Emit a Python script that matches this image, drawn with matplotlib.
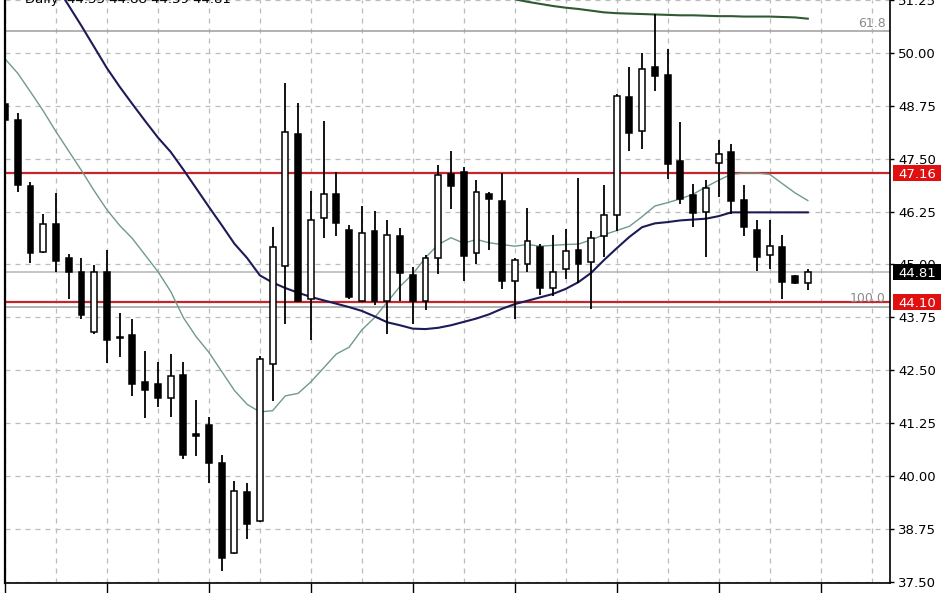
import matplotlib
matplotlib.use("Agg")
import matplotlib.pyplot as plt
import matplotlib.transforms as mtrans
from matplotlib.patches import Rectangle
import numpy as np

# ---------------- data (daily candles) ----------------
opens = [48.79, 48.42, 46.86, 45.30, 45.96, 45.14, 44.81, 43.39, 44.83, 43.29,
         43.33, 42.21, 42.16, 41.85, 42.39, 40.99, 41.20, 40.31, 38.17, 39.62,
         38.92, 42.65, 44.97, 48.09, 44.19, 46.10, 46.67, 45.81, 44.14, 45.78,
         44.14, 45.66, 44.75, 44.14, 45.14, 47.13, 47.19, 45.28, 46.67, 46.49,
         44.60, 45.01, 45.41, 44.44, 44.89, 45.34, 45.06, 45.67, 46.16, 48.95,
         48.16, 49.66, 49.47, 47.44, 46.63, 46.24, 47.40, 47.66, 46.53, 45.82,
         45.21, 45.41, 44.73, 44.55]
highs = [49.33, 48.59, 46.94, 46.19, 46.68, 45.24, 45.14, 44.99, 45.34, 43.86,
         43.70, 42.96, 42.69, 42.88, 42.69, 41.79, 41.38, 40.50, 39.88, 39.84,
         42.84, 45.88, 49.29, 48.81, 46.74, 48.38, 47.19, 45.92, 46.37, 46.26,
         46.04, 45.85, 44.93, 45.22, 47.34, 47.68, 47.31, 47.00, 46.71, 47.15,
         45.15, 46.33, 45.47, 45.70, 45.84, 47.04, 45.78, 46.88, 49.04, 49.67,
         50.00, 50.93, 50.10, 48.36, 46.91, 46.99, 47.93, 47.85, 46.87, 46.04,
         46.04, 45.70, 44.75, 44.88]
lows = [48.30, 46.72, 45.04, 45.28, 44.83, 44.19, 43.70, 43.36, 42.67, 42.80,
        41.89, 41.36, 41.62, 41.40, 40.39, 40.46, 39.82, 37.75, 38.14, 38.50,
        38.90, 41.77, 43.58, 44.10, 43.21, 45.63, 45.67, 44.19, 44.12, 44.03,
        43.35, 44.14, 43.58, 43.92, 44.77, 46.30, 44.60, 45.01, 45.34, 44.42,
        43.70, 44.83, 44.28, 44.25, 44.65, 44.56, 43.95, 45.18, 45.80, 47.67,
        47.72, 49.11, 47.03, 46.42, 45.88, 45.17, 46.59, 46.20, 45.66, 44.84,
        44.88, 44.17, 44.53, 44.39]
closes = [48.42, 46.88, 45.26, 45.96, 45.08, 44.83, 43.80, 44.81, 43.21, 43.25,
          42.16, 42.04, 41.85, 42.36, 40.50, 40.95, 40.31, 38.06, 39.65, 38.85,
          42.77, 45.40, 48.14, 44.14, 46.04, 46.66, 45.98, 44.23, 45.74, 44.14,
          45.69, 44.79, 44.14, 45.14, 47.11, 46.85, 45.20, 46.71, 46.55, 44.60,
          45.10, 45.55, 44.44, 44.83, 45.32, 45.01, 45.63, 46.16, 48.98, 48.10,
          49.61, 49.45, 47.38, 46.54, 46.22, 46.81, 47.62, 46.51, 45.88, 45.17,
          45.43, 44.58, 44.55, 44.81]

# fast moving average (grey-green), one value per candle
fast_ma = [49.86, 49.52, 49.08, 48.63, 48.14, 47.68, 47.22, 46.74, 46.29, 45.92,
           45.61, 45.22, 44.83, 44.36, 43.74, 43.29, 42.92, 42.47, 42.02, 41.69,
           41.51, 41.54, 41.89, 41.95, 42.22, 42.55, 42.88, 43.04, 43.45, 43.74,
           44.11, 44.48, 44.77, 45.16, 45.47, 45.63, 45.50, 45.59, 45.51, 45.47,
           45.43, 45.47, 45.43, 45.45, 45.47, 45.48, 45.58, 45.70, 45.80, 45.90,
           46.13, 46.38, 46.46, 46.55, 46.66, 46.83, 46.99, 47.13, 47.16, 47.16,
           47.13, 46.91, 46.69, 46.51]
# slow moving average (navy), starts at candle 3
slow_ma_start = 3
slow_ma = [52.05, 51.59, 51.12, 50.64, 50.14, 49.64, 49.20, 48.79, 48.39, 48.00,
           47.66, 47.24, 46.80, 46.36, 45.93, 45.49, 45.15, 44.74, 44.57, 44.44,
           44.33, 44.23, 44.15, 44.07, 43.99, 43.90, 43.77, 43.63, 43.56, 43.48,
           43.47, 43.50, 43.56, 43.64, 43.72, 43.82, 43.95, 44.06, 44.14, 44.22,
           44.30, 44.42, 44.58, 44.80, 45.10, 45.38, 45.65, 45.88, 45.97, 46.00,
           46.04, 46.06, 46.08, 46.14, 46.23, 46.23, 46.23, 46.23, 46.23, 46.23,
           46.23]
# long moving average (dark green), starts at candle 39
long_ma_start = 39
long_ma = [51.40, 51.27, 51.21, 51.16, 51.11, 51.07, 51.04, 51.00, 50.96, 50.94,
           50.93, 50.92, 50.91, 50.90, 50.89, 50.89, 50.88, 50.87, 50.87, 50.86,
           50.86, 50.86, 50.85, 50.84, 50.81]

resistance = 47.16
support = 44.10
last_price = 44.81
fib_levels = [("61.8", 50.51), ("100.0", 44.00)]
y_ticks = [37.50, 38.75, 40.00, 41.25, 42.50, 43.75, 45.00, 46.25, 47.50,
           48.75, 50.00, 51.25]
title_text = "Daily  44.55 44.88 44.39 44.81"

# ---------------- figure ----------------
W, H = 948, 593
fig = plt.figure(figsize=(W / 100, H / 100), dpi=100)
fig.patch.set_facecolor("white")
ax = fig.add_axes([5 / W, 10 / H, 885 / W, 583 / H])
ax.set_facecolor("white")

n = len(opens)
idx = np.arange(n)
o = np.array(opens); c = np.array(closes)
hi = np.array(highs); lo = np.array(lows)

ax.set_xlim(0.04, 69.45)
ax.set_ylim(37.465, 51.252)

# grid
grid_kw = dict(color="#bcbcbc", linestyle=(0, (4, 4)), linewidth=0.9)
ax.set_xticks(np.arange(0, 70, 8))
ax.set_xticks(np.arange(4, 70, 8), minor=True)
ax.set_yticks(y_ticks)
ax.set_yticklabels([f"{t:.2f}" for t in y_ticks])
ax.grid(True, which="both", axis="x", **grid_kw, zorder=0)
ax.grid(True, which="major", axis="y", **grid_kw, zorder=0)
ax.set_axisbelow(True)

ax.yaxis.tick_right()
ax.tick_params(axis="y", direction="out", length=3, width=1, pad=3,
               labelsize=9.5, colors="black")
ax.tick_params(axis="x", which="major", direction="out", length=9, width=1,
               labelbottom=False)
ax.tick_params(axis="x", which="minor", length=0)

for s in ["top"]:
    ax.spines[s].set_visible(False)
ax.spines["left"].set_linewidth(1.6)
ax.spines["right"].set_linewidth(1.2)
ax.spines["bottom"].set_linewidth(1.2)

# horizontal levels
ax.axhline(fib_levels[0][1], color="#a4a4a4", lw=1.2, zorder=1)
ax.axhline(fib_levels[1][1], color="#a4a4a4", lw=1.2, zorder=1)
ax.axhline(last_price, color="#b4b4b4", lw=1.1, zorder=1)
ax.axhline(resistance, color="#c4262c", lw=1.6, zorder=1.2)
ax.axhline(support, color="#c4262c", lw=1.6, zorder=1.2)

# moving averages
ax.plot(idx, fast_ma, color="#6f9a8c", lw=1.0, zorder=2)
ax.plot(np.arange(slow_ma_start, slow_ma_start + len(slow_ma)), slow_ma,
        color="#1d1b55", lw=1.5, zorder=2)
ax.plot(np.arange(long_ma_start, long_ma_start + len(long_ma)), long_ma,
        color="#2f5a33", lw=1.5, zorder=2)

# candles
ax.vlines(idx, lo, hi, color="black", lw=1.3, zorder=3)
bottoms = np.minimum(o, c)
heights = np.maximum(np.abs(c - o), 0.03)
colors = ["white" if cc >= oo else "black" for oo, cc in zip(o, c)]
ax.bar(idx, heights, bottom=bottoms, width=0.46, color=colors,
       edgecolor="black", linewidth=1.1, zorder=4)

# price boxes on the right scale
blend = mtrans.blended_transform_factory(fig.transFigure, ax.transData)
box_h = 0.38
for val, fc in [(resistance, "#e01010"), (last_price, "black"), (support, "#e01010")]:
    fig.add_artist(Rectangle((893 / W, val - box_h / 2), 48 / W, box_h,
                             transform=blend, facecolor=fc, edgecolor="none",
                             zorder=5))
    fig.text(917 / W, val, f"{val:.2f}", transform=blend, color="white",
             ha="center", va="center_baseline", fontsize=9.5, zorder=6)

# fibonacci labels
fig.text(886 / W, fib_levels[0][1] + 0.22, fib_levels[0][0], transform=blend,
         ha="right", va="center_baseline", color="#8a8a8a", fontsize=9)
fig.text(886 / W, fib_levels[1][1] + 0.22, fib_levels[1][0], transform=blend,
         ha="right", va="center_baseline", color="#8a8a8a", fontsize=9)

# chart caption (mostly cut off at the top edge)
fig.text(25 / W, 1 - 3 / H, title_text, ha="left", va="baseline",
         fontsize=9.5, color="black")

fig.savefig("out.png", dpi=100)
